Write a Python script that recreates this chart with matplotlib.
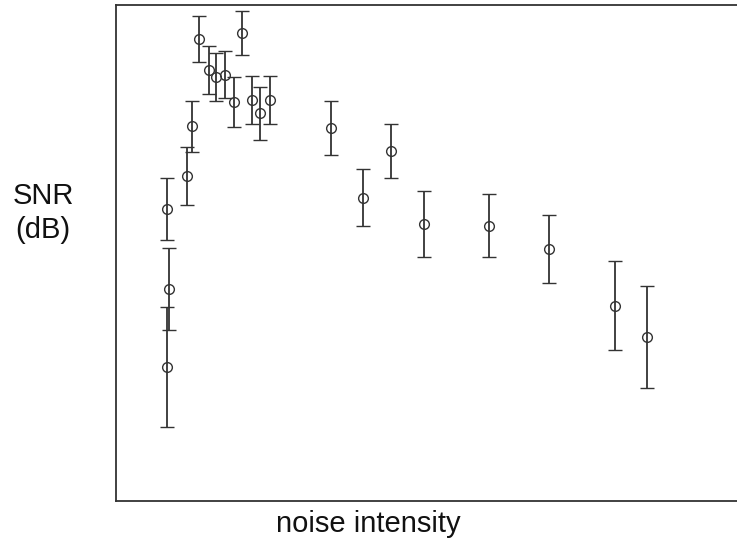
import matplotlib
matplotlib.use("Agg")
import matplotlib.pyplot as plt

# Noise intensity (arbitrary units) and measured output SNR (dB) with standard error
noise = [0.082, 0.086, 0.082, 0.115, 0.123, 0.134, 0.150, 0.162, 0.175, 0.191,
         0.204, 0.220, 0.232, 0.248, 0.346, 0.399, 0.444, 0.496, 0.602, 0.699,
         0.805, 0.857]
snr_db = [-8.60, -5.44, -2.24, -0.90, 1.11, 4.64, 3.37, 3.10, 3.19, 2.10,
          4.86, 2.17, 1.63, 2.17, 1.05, -1.77, 0.11, -2.84, -2.90, -3.83,
          -6.12, -7.39]
snr_err = [2.41, 1.66, 1.25, 1.17, 1.03, 0.93, 0.97, 0.96, 0.96, 1.00,
           0.89, 0.97, 1.06, 0.98, 1.09, 1.14, 1.10, 1.33, 1.26, 1.36,
           1.78, 2.04]

W, H = 737, 549
fig = plt.figure(figsize=(W / 100, H / 100), dpi=100)
ax = fig.add_axes([116 / W, (H - 501) / H, 629 / W, 496 / H])

ink = "#333333"
ax.errorbar(noise, snr_db, yerr=snr_err, fmt="o", mfc="none", mec=ink,
            ms=7, mew=1.0, ecolor=ink, elinewidth=1.3, capsize=5, capthick=1.3)

ax.set_xlim(0, 629 / 620)
ax.set_ylim(-14, 6)
ax.set_xticks([])
ax.set_yticks([])
for s in ax.spines.values():
    s.set_color(ink)
    s.set_linewidth(1.3)

font = ["Liberation Sans", "DejaVu Sans"]
fig.text(43 / W, 1 - 213 / H, "SNR\n(dB)", ha="center", va="center",
         fontsize=21, family=font, color="#111111", linespacing=1.25)
fig.text(368 / W, 1 - 524 / H, "noise intensity", ha="center", va="center",
         fontsize=21, family=font, color="#111111")

fig.savefig("out.png", dpi=100)
